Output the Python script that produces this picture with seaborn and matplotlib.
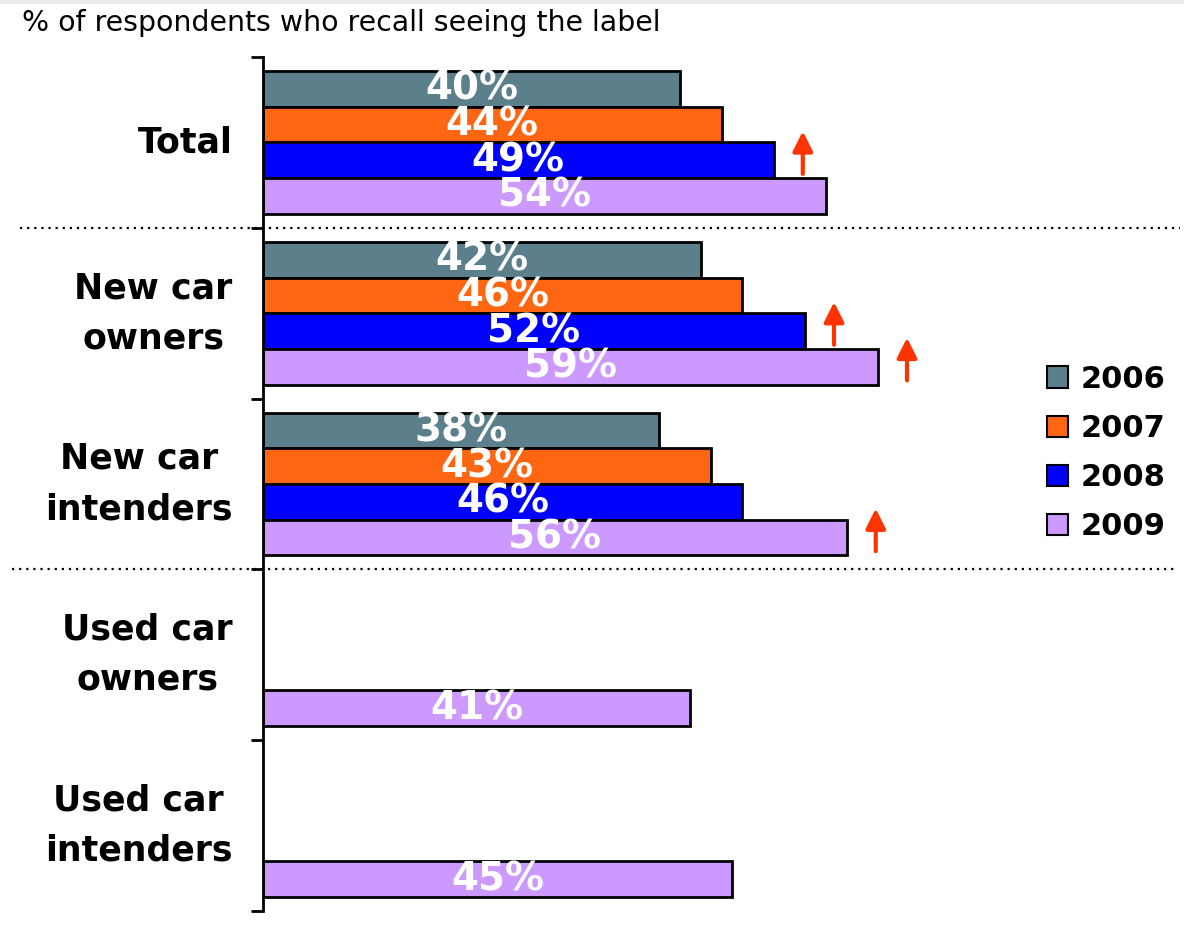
import matplotlib
matplotlib.use("Agg")
import matplotlib.pyplot as plt
import matplotlib.transforms as mtransforms
from matplotlib.patches import Rectangle
import numpy as np
import pandas as pd
import seaborn as sns

# Survey results: share of respondents who recall seeing the label
categories = ["Total", "New car\nowners", "New car\nintenders",
              "Used car\nowners", "Used car\nintenders"]
years = ["2006", "2007", "2008", "2009"]
values = {
    "2006": [40, 42, 38, None, None],
    "2007": [44, 46, 43, None, None],
    "2008": [49, 52, 46, None, None],
    "2009": [54, 59, 56, 41, 45],
}
colors = ["#5B808C", "#FF6612", "#0000FF", "#CC99FF"]
# Significant increases flagged with an arrow: (category index, year)
increases = [(0, "2008"), (1, "2008"), (1, "2009"), (2, "2009")]
title_text = "% of respondents who recall seeing the label"

rows = []
for yr in years:
    for cat, v in zip(categories, values[yr]):
        if v is not None:
            rows.append({"category": cat, "year": yr, "value": v})
df = pd.DataFrame(rows)

sns.set_style("white")
plt.rcParams["font.family"] = ["DejaVu Sans"]
plt.rcParams["text.color"] = "black"
plt.rcParams["ytick.labelcolor"] = "black"
plt.rcParams["ytick.color"] = "black"

fig = plt.figure(figsize=(11.84, 9.27), dpi=100)
W, H = 1184, 927
ax = fig.add_axes([263 / W, 1 - 911 / H, 917 / W, (911 - 57) / H])

group_width = 0.836
sns.barplot(data=df, y="category", x="value", hue="year",
            order=categories, hue_order=years, palette=colors,
            orient="h", width=group_width, dodge=True,
            edgecolor="black", linewidth=2, saturation=1,
            legend=True, ax=ax)

ax.set_xlim(0, 88)
ax.set_ylim(len(categories) - 0.5, -0.5)

# value labels inside each bar
for cont in ax.containers:
    ax.bar_label(cont, labels=[f"{b.get_width():.0f}%" for b in cont],
                 label_type="center", color="white", fontsize=28,
                 fontweight="bold")

# arrows marking significant increases
bar_h = group_width / len(years)
for ci, yr in increases:
    v = values[yr][ci]
    yi = years.index(yr)
    yc = ci + (yi - (len(years) - 1) / 2) * bar_h - 0.045
    ax.annotate("", xy=(v + 2.8, yc - 0.125), xytext=(v + 2.8, yc + 0.125),
                arrowprops=dict(arrowstyle="-|>,head_length=1.2,head_width=0.6",
                                color="#FF3300", lw=3.0, mutation_scale=10,
                                shrinkA=0, shrinkB=0))

# axes styling: only left spine, ticks at group boundaries
for s in ["top", "right", "bottom"]:
    ax.spines[s].set_visible(False)
ax.spines["left"].set_linewidth(2)
ax.spines["left"].set_color("black")
ax.set_xticks([])
ax.set_xlabel("")
ax.set_ylabel("")
bounds = np.arange(-0.5, len(categories), 1.0)
ax.set_yticks(bounds)
ax.set_yticklabels([])
ax.tick_params(axis="y", which="major", direction="out", length=9, width=2,
               color="black", left=True)
ax.set_yticks(np.arange(len(categories)), minor=True)
ax.set_yticklabels(categories, minor=True, fontsize=25, fontweight="bold",
                   color="black")
ax.tick_params(axis="y", which="minor", length=0, pad=22)
for lab in ax.get_yticklabels(minor=True):
    lab.set_multialignment("center")
    lab.set_linespacing(1.6)
    lab.set_verticalalignment("center")

# dotted separators between survey groups
trans = mtransforms.blended_transform_factory(fig.transFigure, ax.transData)
ax.plot([20 / W, 1180 / W], [0.5, 0.5], transform=trans, clip_on=False,
        color="black", lw=1.6, ls=(0, (1, 2.2)))
ax.plot([12 / W, 1175 / W], [2.5, 2.5], transform=trans, clip_on=False,
        color="black", lw=1.6, ls=(0, (1, 2.2)))

# legend
handles, labels = ax.get_legend_handles_labels()
for h in handles:
    h.set_edgecolor("black")
    h.set_linewidth(1.5)
leg = ax.legend(handles, labels, loc="center left",
                bbox_to_anchor=(1047 / W, 1 - 453 / H),
                bbox_transform=fig.transFigure, frameon=False,
                prop={"size": 22, "weight": "bold"},
                handlelength=0.7, handleheight=0.7, handletextpad=0.4,
                labelspacing=0.66, borderaxespad=0, borderpad=0)
for t in leg.get_texts():
    t.set_color("black")

# title
fig.text(22 / W, 1 - 23 / H, title_text, fontsize=20.4, ha="left", va="center",
         color="black")

# light frame strip along the top edge
fig.patches.append(Rectangle((0, 1 - 4 / H), 1, 4 / H, transform=fig.transFigure,
                             facecolor="#E8ECEE", edgecolor="none", zorder=-1))

fig.savefig("out.png", dpi=100)
